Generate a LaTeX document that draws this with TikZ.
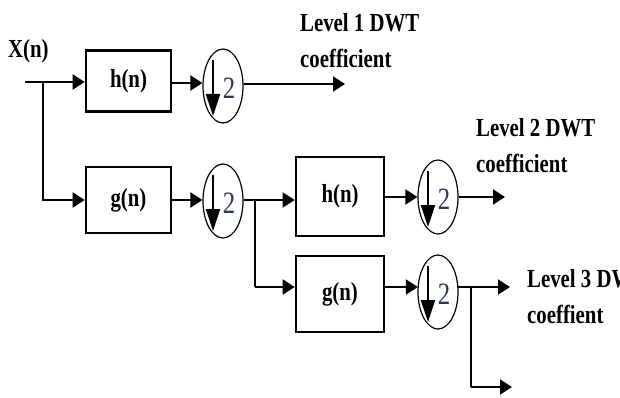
\documentclass[tikz,border=0pt]{standalone}
\usepackage{fontspec}
\setmainfont{Liberation Serif}[FakeStretch=0.8]
\usetikzlibrary{arrows.meta,shapes.geometric}
\begin{document}
\begin{tikzpicture}[x=1pt,y=-1pt,
  blk/.style={draw,line width=2.6pt,inner sep=0pt,font=\fontsize{26}{30}\selectfont\bfseries},
  dn/.style={draw,ellipse,line width=1.2pt,minimum width=40pt,minimum height=74pt,inner sep=0pt},
  ln/.style={line width=2pt},
  arr/.style={line width=2pt,-{Triangle[length=12pt,width=15pt]}},
  dnarr/.style={line width=2pt,-{Triangle[length=22pt,width=14pt]}},
  two/.style={inner sep=0pt,text=tcol,font=\fontsize{31}{34}\selectfont},
  lbl/.style={inner sep=0pt,anchor=base west,font=\fontsize{26}{30}\selectfont\bfseries}]
\definecolor{tcol}{RGB}{45,55,85}
\useasboundingbox (0,0) rectangle (620,398);
\clip (0,0) rectangle (620,398);
% blocks
\node[blk,minimum width=85pt,minimum height=61pt] (h1) at (128.5,81) {h(n)};
\node[blk,minimum width=85pt,minimum height=66pt] (g1) at (128.5,200) {g(n)};
\node[blk,minimum width=88pt,minimum height=79pt] (h2) at (340,196.5) {h(n)};
\node[blk,minimum width=88pt,minimum height=76pt] (g2) at (340,294) {g(n)};
% downsamplers
\node[dn] (c1) at (223,86) {};
\node[dn] (c2) at (223,201) {};
\node[dn] (c3) at (438,197) {};
\node[dn] (c4) at (438,292) {};
\foreach \c in {c1,c2,c3,c4}{
  \draw[dnarr] ([shift={(-10,-26)}]\c.center) -- ++(0,56);
  \node[two] at ([shift={(6,2)}]\c.center) {2};
}
% labels
\node[lbl] (xin) at (8,58) {X(n)};
\node[lbl] (t1a) at (300,32) {Level 1 DWT};
\node[lbl] (t1b) at (300,68) {coefficient};
\node[lbl] (t2a) at (476,137) {Level 2 DWT};
\node[lbl] (t2b) at (476,172) {coefficient};
\node[lbl] (t3a) at (527,287) {Level 3 DWT};
\node[lbl] (t3b) at (527,323) {coeffient};
% coordinates
\coordinate (in) at (25,82);
\coordinate (j1) at (43,82);
\coordinate (o1) at (345,84);
\coordinate (j2) at (255,200);
\coordinate (j2b) at (255,287);
\coordinate (o2) at (505,197);
\coordinate (j3) at (471,287);
\coordinate (o3) at (510,287);
\coordinate (j3b) at (471,387);
\coordinate (o4) at (512,387);
% connectors
\draw[ln] (in) -- (j1);
\draw[arr] (j1) -- (j1 -| h1.west);
\draw[arr] (j1) |- (g1.west);
\draw[arr] (h1.east |- 0,83) -- (c1.west |- 0,83);
\draw[arr] (c1.east |- 0,84) -- (o1);
\draw[arr] (g1.east) -- (g1.east -| c2.west);
\draw[ln] (c2.east |- j2) -- (j2);
\draw[arr] (j2) -- (j2 -| h2.west);
\draw[ln] (j2) -- (j2b);
\draw[arr] (j2b) -- (j2b -| g2.west);
\draw[arr] (h2.east |- c3) -- (c3.west);
\draw[arr] (c3.east) -- (o2);
\draw[arr] (g2.east |- j2b) -- ([xshift=0.5pt]c4.west |- j2b);
\draw[ln] ([xshift=-0.5pt]c4.east |- j3) -- (j3);
\draw[arr] (j3) -- (o3);
\draw[ln] (j3) -- (j3b);
\draw[arr] (j3b) -- (o4);
\end{tikzpicture}
\end{document}
